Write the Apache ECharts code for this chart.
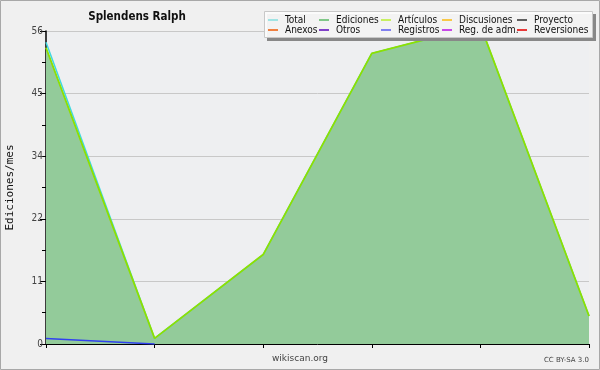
<!DOCTYPE html>
<html><head><meta charset="utf-8">
<script src="https://cdn.jsdelivr.net/npm/echarts@6/dist/echarts.min.js"></script>
<style>html,body{margin:0;padding:0;background:#f0f0f0}#c{width:600px;height:370px}</style>
</head><body><div id="c"></div>
<script>
var categories = ['m1','m2','m3','m4','m5','m6'];
var total      = [54, 1, 16, 52, 57, 5];
var ediciones  = [53, 1, 16, 52, 57, 5];
var articulos  = [53, 1, 16, 52, 57, 5];
var registros  = [1, 0];
var yTicks = [0, 11, 22, 34, 45, 56];

var chart = echarts.init(document.getElementById('c'));
var F = 'DejaVu Sans';
var FC = '"DejaVu Sans Condensed", "DejaVu Sans"';
function legendCol(x, names){
  return {left:x, top:15, orient:'vertical', itemWidth:10, itemHeight:2, itemGap:0,
    icon:'rect', padding:0, selectedMode:false, z:10,
    textStyle:{fontFamily:FC, fontSize:10, color:'#111', padding:[0,0,0,2]},
    data:names};
}
chart.setOption({
  animation:false,
  backgroundColor:'#f0f0f0',
  title:{text:'Splendens Ralph', left:132, top:6, textAlign:'center',
    textStyle:{fontFamily:FC, fontSize:11.5, fontWeight:'bold', color:'#111'}},
  graphic:[
    {type:'rect', shape:{x:0.5,y:0.5,width:599,height:369}, style:{fill:null, stroke:'#a8a8a8', lineWidth:1}, z:-1},
    {type:'rect', shape:{x:267,y:14,width:329,height:27}, style:{fill:'#888'}, z:5},
    {type:'rect', shape:{x:264.5,y:11.5,width:328,height:26}, style:{fill:'rgba(252,252,252,0.92)', stroke:'#c8c8c8', lineWidth:1}, z:6},
    {type:'text', left:'center', top:354, style:{text:'wikiscan.org', fontFamily:F, fontSize:9, fill:'#444'}, z:10},
    {type:'text', right:11, top:357, style:{text:'CC BY-SA 3.0', fontFamily:F, fontSize:7, fill:'#444'}, z:10}
  ],
  legend:[
    legendCol(268, ['Total','Anexos']),
    legendCol(319, ['Ediciones','Otros']),
    legendCol(381, ['Artículos','Registros']),
    legendCol(442, ['Discusiones','Reg. de adm.']),
    legendCol(517, ['Proyecto','Reversiones'])
  ],
  grid:{left:46, right:11, top:31, bottom:26, show:true, backgroundColor:'#eeeff1', borderWidth:0, outerBoundsMode:'none', containLabel:false},
  xAxis:{type:'category', data:categories, boundaryGap:false,
    axisLine:{lineStyle:{color:'#000', width:1}},
    axisTick:{show:true, length:4, lineStyle:{color:'#000'}},
    axisLabel:{show:false}, splitLine:{show:false}},
  yAxis:{type:'value', min:0, max:56, interval:11.2,
    name:'Ediciones/mes', nameLocation:'middle', nameGap:30, nameRotate:90,
    nameTextStyle:{fontFamily:'DejaVu Sans Mono', fontSize:11, color:'#111'},
    axisLine:{show:true, lineStyle:{color:'#000', width:1.5}},
    axisTick:{show:true, length:6, lineStyle:{color:'#000'}},
    minorTick:{show:true, splitNumber:2, length:4, lineStyle:{color:'#000'}},
    axisLabel:{fontFamily:FC, fontSize:10, color:'#444', margin:3,
      formatter:function(v){ var r=Math.round(v); return yTicks.indexOf(r)>=0? String(r):''; }},
    splitLine:{show:true, lineStyle:{color:'#c8c8c8', width:1}}},
  series:[
    {name:'Total', type:'line', data:total, symbol:'none', clip:false, z:3, color:'#a0e4e4', lineStyle:{width:1.5, color:'#40d8e0'}},
    {name:'Ediciones', type:'line', data:ediciones, symbol:'none', clip:false, z:2, color:'#80c888', lineStyle:{width:1, color:'#80c888'},
      areaStyle:{color:'#93cb9a', opacity:1}},
    {name:'Artículos', type:'line', data:articulos, symbol:'none', clip:false, z:4, color:'#c8f060', lineStyle:{width:1.8, color:'#8ee000'}},
    {name:'Discusiones', type:'line', data:[], symbol:'none', color:'#f8c848'},
    {name:'Proyecto', type:'line', data:[], symbol:'none', color:'#606060'},
    {name:'Anexos', type:'line', data:[], symbol:'none', color:'#f08040'},
    {name:'Otros', type:'line', data:[], symbol:'none', color:'#8040c8'},
    {name:'Registros', type:'line', data:registros, symbol:'none', z:5, color:'#8080f0', lineStyle:{width:1.5, color:'#3040f0'}},
    {name:'Reg. de adm.', type:'line', data:[], symbol:'none', color:'#c848e8'},
    {name:'Reversiones', type:'line', data:[], symbol:'none', color:'#e83838'}
  ]
});
</script></body></html>
